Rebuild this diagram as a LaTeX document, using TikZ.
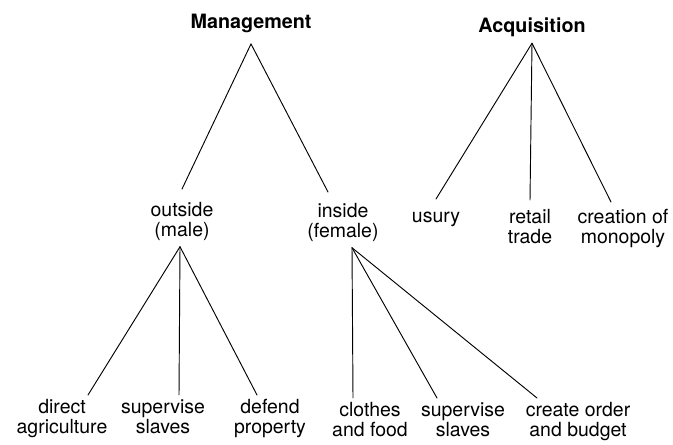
\documentclass[tikz,border=0pt]{standalone}
\usepackage{fontspec}
\setmainfont{TeX Gyre Heros}
\usepackage{tikz}
\usetikzlibrary{calc}
\tikzset{
  lbl/.style={align=center, anchor=north, inner xsep=0pt, inner ysep=3pt,
    font=\fontsize{14.6}{15}\selectfont,
    execute at begin node=\strut, execute at end node=\strut},
  head/.style={lbl, font=\fontsize{14.8}{15}\selectfont\bfseries},
  e/.style={line width=0.7pt, line cap=round},
}

\begin{document}
\begin{tikzpicture}[x=0.75pt, y=-0.75pt]
\useasboundingbox (0,0) rectangle (673,444);
% heads
\node[head] (mgmt) at (251,10)  {Management};
\node[head] (acq)  at (532,14)  {Acquisition};
% middle row
\node[lbl] (outside)  at (182,198) {outside\\(male)};
\node[lbl] (inside)   at (343,199) {inside\\(female)};
\node[lbl] (usury)    at (436,204) {usury};
\node[lbl] (retail)   at (530,205) {retail\\trade};
\node[lbl] (creation) at (623,205) {creation of\\monopoly};
% bottom row
\node[lbl] (direct)  at (62,395)  {direct\\agriculture};
\node[lbl] (supM)    at (163,395) {supervise\\slaves};
\node[lbl] (defend)  at (270,395) {defend\\property};
\node[lbl] (clothes) at (370,398) {clothes\\and food};
\node[lbl] (supF)    at (463,398) {supervise\\slaves};
\node[lbl] (create)  at (578,398) {create order\\and budget};
% edges
\draw[e] ($(mgmt.south)+(0,5)$) -- ($(outside.north)+(0,-9)$);
\draw[e] ($(mgmt.south)+(0,5)$) -- ($(inside.north)+(-15,-7)$);
\draw[e] ($(outside.south)+(-2,0)$) -- ($(direct.north)+(26,0)$);
\draw[e] ($(outside.south)+(-2,0)$) -- ($(supM.north)+(16,0)$);
\draw[e] ($(outside.south)+(-2,0)$) -- ($(defend.north)+(-13,0)$);
\draw[e] ($(inside.south)+(9,0)$) -- ($(clothes.north)+(-17,0)$);
\draw[e] ($(inside.south)+(9,0)$) -- ($(supF.north)+(-26,0)$);
\draw[e] ($(inside.south)+(9,0)$) -- ($(create.north)+(-41,0)$);
\draw[e] (acq.south) -- ($(usury.north)+(0,-5)$);
\draw[e] (acq.south) -- ($(retail.north)+(0,-5)$);
\draw[e] (acq.south) -- ($(creation.north)+(-12,-3)$);
\end{tikzpicture}
\end{document}
